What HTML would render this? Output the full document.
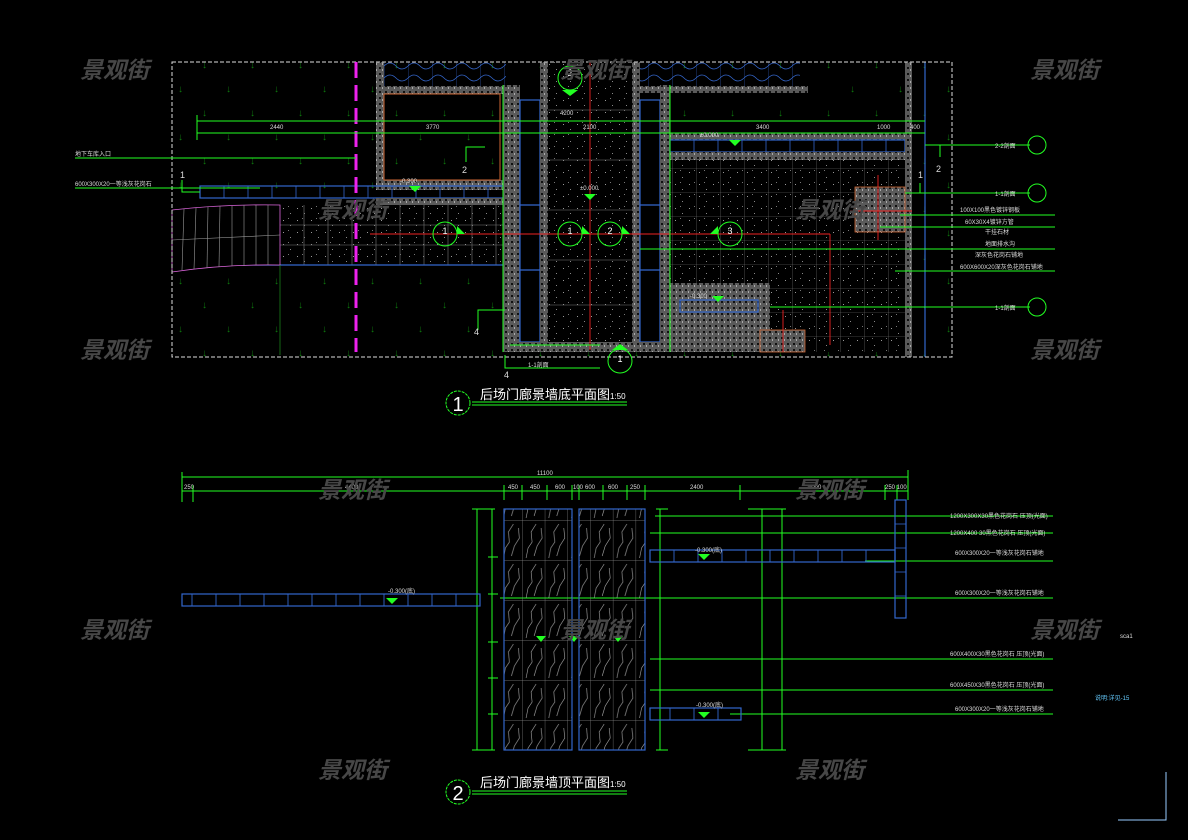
<!DOCTYPE html>
<html><head><meta charset="utf-8"><style>
html,body{margin:0;padding:0;background:#000;}
svg{display:block}
text{font-family:"Liberation Sans","Noto Sans CJK SC",sans-serif;}
.wm{fill:#474747;font-size:23px;font-style:italic;font-weight:bold;font-family:"Liberation Sans","Noto Sans CJK SC",sans-serif;}
.t{fill:#ddd;font-size:6px;}
.g{stroke:#2f2;stroke-width:1;fill:none}
.b{stroke:#36c;stroke-width:1.2;fill:none}
</style></head><body>
<svg width="1188" height="840" viewBox="0 0 1188 840" xmlns="http://www.w3.org/2000/svg">
<defs>
<pattern id="tz" width="6" height="6" patternUnits="userSpaceOnUse">
<rect width="6" height="6" fill="#5a5a5a"/><rect x="1" y="1" width="2" height="2" fill="#111"/><rect x="4" y="3" width="1" height="2" fill="#aaa"/>
</pattern>
<pattern id="pv" width="14" height="12" patternUnits="userSpaceOnUse">
<rect width="14" height="12" fill="#000"/><rect x="3" y="4" width="1" height="1" fill="#999"/><rect x="10" y="9" width="1" height="1" fill="#888"/><rect x="8" y="2" width="1" height="1" fill="#777"/>
</pattern>
<pattern id="gr" width="48" height="48" patternUnits="userSpaceOnUse">
<text x="10" y="20" fill="#0c7a0c" font-size="10">↓</text><text x="34" y="44" fill="#0c7a0c" font-size="10">↓</text>
</pattern>
<pattern id="wv" width="24" height="12" patternUnits="userSpaceOnUse">
<path d="M0 6 Q6 0 12 6 T24 6" stroke="#36c" fill="none" stroke-width="0.8"/><line x1="0" y1="0" x2="0" y2="12" stroke="#36c" stroke-width="0.6"/>
</pattern>
<pattern id="tile" width="24" height="24" patternUnits="userSpaceOnUse">
<rect width="24" height="24" fill="url(#pv)"/><path d="M0 0H24M0 0V24" stroke="#777" stroke-width="0.6"/>
</pattern>
<pattern id="stone" width="22.7" height="40" patternUnits="userSpaceOnUse">
<path d="M0 0H22.7M0 0V40" stroke="#888" stroke-width="0.7"/>
<path d="M4 38 L6 28 L10 22 L9 12 L14 4 M12 36 L15 26 L20 18 L19 8" stroke="#aaa" stroke-width="0.6" fill="none"/>
</pattern>
</defs>

<!-- TOP PLAN -->
<rect x="172" y="62" width="780" height="295" fill="url(#gr)"/>
<rect x="376" y="62" width="130" height="24" fill="url(#wv)"/>
<rect x="640" y="62" width="160" height="24" fill="url(#wv)"/>
<rect x="376" y="62" width="8" height="128" fill="url(#tz)"/>
<rect x="376" y="86" width="134" height="8" fill="url(#tz)"/>
<rect x="376" y="180" width="134" height="10" fill="url(#tz)"/>
<rect x="384" y="94" width="116" height="86" fill="#000" stroke="#c63" stroke-width="1"/>
<rect x="386" y="96" width="112" height="82" fill="url(#gr)"/>
<rect x="200" y="186" width="305" height="12" fill="#000" class="b"/>
<g stroke="#36c" stroke-width="0.8">
<line x1="224" y1="186" x2="224" y2="198"/><line x1="248" y1="186" x2="248" y2="198"/><line x1="272" y1="186" x2="272" y2="198"/><line x1="296" y1="186" x2="296" y2="198"/><line x1="320" y1="186" x2="320" y2="198"/><line x1="344" y1="186" x2="344" y2="198"/><line x1="368" y1="186" x2="368" y2="198"/><line x1="392" y1="186" x2="392" y2="198"/><line x1="416" y1="186" x2="416" y2="198"/><line x1="440" y1="186" x2="440" y2="198"/><line x1="464" y1="186" x2="464" y2="198"/><line x1="488" y1="186" x2="488" y2="198"/>
</g>
<rect x="376" y="198" width="134" height="7" fill="url(#tz)"/>
<rect x="280" y="205" width="225" height="60" fill="url(#pv)"/>
<g stroke="#777" stroke-width="0.6">
<line x1="280" y1="225" x2="505" y2="225"/><line x1="280" y1="245" x2="505" y2="245"/>
<line x1="304" y1="205" x2="304" y2="265"/><line x1="328" y1="205" x2="328" y2="265"/><line x1="352" y1="205" x2="352" y2="265"/><line x1="376" y1="205" x2="376" y2="265"/><line x1="400" y1="205" x2="400" y2="265"/><line x1="424" y1="205" x2="424" y2="265"/><line x1="448" y1="205" x2="448" y2="265"/><line x1="472" y1="205" x2="472" y2="265"/><line x1="496" y1="205" x2="496" y2="265"/>
</g>
<line x1="200" y1="265" x2="505" y2="265" class="b"/>
<path d="M172 210 Q226 204 280 205 V265 Q226 264 172 272 Z" fill="#000" stroke="#d6d" stroke-width="0.8"/>
<g stroke="#999" stroke-width="0.6">
<line x1="184" y1="209" x2="182" y2="270"/><line x1="196" y1="208" x2="194" y2="269"/><line x1="208" y1="207" x2="207" y2="268"/><line x1="220" y1="206" x2="219" y2="267"/><line x1="232" y1="206" x2="232" y2="266"/><line x1="244" y1="205" x2="244" y2="266"/><line x1="256" y1="205" x2="256" y2="265"/><line x1="268" y1="205" x2="268" y2="265"/>
<line x1="172" y1="240" x2="280" y2="235"/>
</g>
<line x1="280" y1="265" x2="280" y2="355" stroke="#2a2" stroke-width="0.6"/>
<rect x="503" y="85" width="17" height="267" fill="url(#tz)"/>
<rect x="520" y="100" width="20" height="242" fill="#000" class="b"/>
<rect x="540" y="62" width="8" height="290" fill="url(#tz)"/>
<rect x="548" y="62" width="84" height="280" fill="url(#pv)"/>
<g stroke="#777" stroke-width="0.6">
<line x1="548" y1="110" x2="632" y2="110"/><line x1="548" y1="160" x2="632" y2="160"/><line x1="548" y1="210" x2="632" y2="210"/><line x1="548" y1="260" x2="632" y2="260"/><line x1="548" y1="305" x2="632" y2="305"/>
</g>
<rect x="632" y="62" width="8" height="290" fill="url(#tz)"/>
<rect x="640" y="100" width="20" height="242" fill="#000" class="b"/>
<rect x="660" y="85" width="10" height="267" fill="url(#tz)"/>
<rect x="503" y="342" width="167" height="10" fill="url(#tz)"/>
<line x1="520" y1="205" x2="540" y2="205" class="b"/><line x1="520" y1="270" x2="540" y2="270" class="b"/>
<line x1="640" y1="205" x2="660" y2="205" class="b"/><line x1="640" y1="270" x2="660" y2="270" class="b"/>
<rect x="640" y="86" width="168" height="7" fill="url(#tz)"/>
<rect x="660" y="133" width="250" height="7" fill="url(#tz)"/>
<rect x="670" y="140" width="235" height="12" fill="#000" class="b"/>
<g stroke="#36c" stroke-width="0.8"><line x1="694" y1="140" x2="694" y2="152"/><line x1="718" y1="140" x2="718" y2="152"/><line x1="742" y1="140" x2="742" y2="152"/><line x1="766" y1="140" x2="766" y2="152"/><line x1="790" y1="140" x2="790" y2="152"/><line x1="814" y1="140" x2="814" y2="152"/><line x1="838" y1="140" x2="838" y2="152"/><line x1="862" y1="140" x2="862" y2="152"/><line x1="886" y1="140" x2="886" y2="152"/></g>
<rect x="660" y="152" width="250" height="8" fill="url(#tz)"/>
<rect x="670" y="160" width="235" height="192" fill="url(#tile)"/>
<rect x="905" y="62" width="7" height="295" fill="url(#tz)"/>
<rect x="855" y="187" width="50" height="45" fill="url(#tz)" stroke="#c63" stroke-width="0.8"/>
<rect x="670" y="283" width="100" height="69" fill="url(#tz)"/>
<rect x="680" y="300" width="78" height="12" fill="#000" class="b"/>
<rect x="760" y="330" width="45" height="22" fill="url(#tz)" stroke="#c63" stroke-width="0.8"/>
<line x1="925" y1="62" x2="925" y2="357" class="b"/>
<g stroke="#e22" stroke-width="0.9">
<line x1="370" y1="234" x2="830" y2="234"/><line x1="590" y1="62" x2="590" y2="350"/>
<line x1="830" y1="234" x2="830" y2="345"/><line x1="878" y1="175" x2="878" y2="240"/><line x1="850" y1="211" x2="912" y2="211"/>
<line x1="783" y1="310" x2="783" y2="352"/>
</g>
<rect x="172" y="62" width="780" height="295" fill="none" stroke="#ddd" stroke-width="1" stroke-dasharray="4,2"/>
<line x1="356" y1="62" x2="356" y2="352" stroke="#e2e" stroke-width="3" stroke-dasharray="16,7"/>
<g class="g">
<line x1="197" y1="121" x2="925" y2="121"/><line x1="197" y1="133" x2="925" y2="133"/>
<line x1="197" y1="115" x2="197" y2="140"/>
<line x1="503" y1="85" x2="503" y2="352"/><line x1="670" y1="85" x2="670" y2="352"/>
<line x1="75" y1="158" x2="356" y2="158"/>
<line x1="75" y1="188" x2="260" y2="188"/>
<polyline points="182,180 182,192 200,192"/>
<polyline points="466,162 466,147 485,147"/>
<polyline points="478,330 478,310 505,310"/>
<polyline points="925,145 940,145 940,157"/>
<line x1="940" y1="145" x2="1030" y2="145"/>
<polyline points="905,193 920,193 920,183"/><line x1="920" y1="193" x2="1030" y2="193"/>
<line x1="900" y1="215" x2="1055" y2="215"/><line x1="880" y1="227" x2="1055" y2="227"/>
<line x1="640" y1="249" x2="1055" y2="249"/><line x1="895" y1="271" x2="1055" y2="271"/>
<line x1="770" y1="307" x2="1030" y2="307"/>
<line x1="510" y1="345" x2="600" y2="345"/><polyline points="505,355 505,368 600,368"/>
</g>
<g fill="none" stroke="#2f2" stroke-width="1">
<circle cx="1037" cy="145" r="9"/><circle cx="1037" cy="193" r="9"/><circle cx="1037" cy="307" r="9"/>
<circle cx="570" cy="78" r="12"/><circle cx="445" cy="234" r="12"/><circle cx="570" cy="234" r="12"/><circle cx="610" cy="234" r="12"/><circle cx="730" cy="234" r="12"/><circle cx="620" cy="361" r="12"/>
</g>
<g fill="#2f2">
<polygon points="457,234 465,234 457,226"/><polygon points="582,234 590,234 582,226"/><polygon points="622,234 630,234 622,226"/><polygon points="718,234 710,234 718,226"/>
<polygon points="562,90 578,90 570,96"/><polygon points="612,350 628,350 620,344"/>
<polygon points="409,186 421,186 415,192"/><polygon points="584,194 596,194 590,200"/><polygon points="729,140 741,140 735,146"/><polygon points="712,296 724,296 718,302"/>
</g>
<g class="t">
<text x="270" y="129">2440</text><text x="426" y="129">3770</text><text x="560" y="115">4200</text><text x="583" y="129">2100</text><text x="756" y="129">3400</text><text x="877" y="129">1000</text><text x="910" y="129">400</text>
<text x="75" y="156">地下车库入口</text><text x="75" y="186">600X300X20一等浅灰花岗石</text>
<text x="400" y="183">-0.300</text><text x="580" y="190">±0.000</text><text x="700" y="137">±0.000</text><text x="690" y="298">-0.300</text>
<text x="995" y="148">2-2剖面</text><text x="995" y="196">1-1剖面</text><text x="995" y="310">1-1剖面</text>
<text x="960" y="212">100X100黑色镀锌钢板</text><text x="965" y="224">60X30X4镀锌方管</text><text x="985" y="234">干挂石材</text><text x="985" y="246">地面排水沟</text><text x="975" y="257">深灰色花岗石铺地</text><text x="960" y="269">600X600X20深灰色花岗石铺地</text>
<text x="528" y="367">1-1剖面</text>
</g>
<g fill="#ddd" font-size="9"><text x="180" y="178">1</text><text x="462" y="173">2</text><text x="474" y="335">4</text><text x="918" y="178">1</text><text x="936" y="172">2</text><text x="504" y="378">4</text></g>
<g fill="#fff" font-size="9" text-anchor="middle"><text x="570" y="76">2</text><text x="445" y="234">1</text><text x="570" y="234">1</text><text x="610" y="234">2</text><text x="730" y="234">3</text><text x="620" y="362">1</text></g>

<circle cx="458" cy="403" r="12" fill="none" stroke="#2f2" stroke-width="1" stroke-dasharray="3,1"/>
<text x="458" y="411" fill="#fff" font-size="20" text-anchor="middle">1</text>
<text x="480" y="399" fill="#fff" font-size="13">后场门廊景墙底平面图</text><text x="610" y="399" fill="#fff" font-size="8">1:50</text>
<line x1="472" y1="402" x2="627" y2="402" class="g"/><line x1="472" y1="405" x2="627" y2="405" class="g"/>

<!-- BOTTOM PLAN -->
<g class="g">
<line x1="182" y1="477" x2="908" y2="477"/><line x1="182" y1="491" x2="908" y2="491"/>
<line x1="182" y1="472" x2="182" y2="502"/><line x1="193" y1="485" x2="193" y2="502"/><line x1="908" y1="470" x2="908" y2="500"/>
<line x1="504" y1="485" x2="504" y2="500"/><line x1="522" y1="485" x2="522" y2="500"/><line x1="547" y1="485" x2="547" y2="500"/><line x1="572" y1="485" x2="572" y2="500"/><line x1="579" y1="485" x2="579" y2="500"/><line x1="603" y1="485" x2="603" y2="500"/><line x1="627" y1="485" x2="627" y2="500"/><line x1="645" y1="485" x2="645" y2="500"/>
<line x1="740" y1="485" x2="740" y2="500"/><line x1="885" y1="485" x2="885" y2="500"/><line x1="897" y1="485" x2="897" y2="500"/>
<line x1="477" y1="509" x2="477" y2="750"/><line x1="492" y1="509" x2="492" y2="750"/>
<line x1="472" y1="509" x2="495" y2="509"/><line x1="472" y1="750" x2="495" y2="750"/>
<line x1="488" y1="557" x2="498" y2="557"/><line x1="488" y1="594" x2="498" y2="594"/><line x1="488" y1="642" x2="498" y2="642"/><line x1="488" y1="678" x2="498" y2="678"/><line x1="488" y1="714" x2="498" y2="714"/>
<line x1="660" y1="509" x2="660" y2="750"/><line x1="656" y1="509" x2="668" y2="509"/><line x1="656" y1="750" x2="668" y2="750"/>
<line x1="762" y1="509" x2="762" y2="750"/><line x1="782" y1="509" x2="782" y2="750"/><line x1="748" y1="509" x2="786" y2="509"/><line x1="748" y1="750" x2="786" y2="750"/>
<line x1="655" y1="516" x2="1053" y2="516"/><line x1="650" y1="533" x2="1053" y2="533"/><line x1="865" y1="561" x2="1053" y2="561"/>
<line x1="500" y1="598" x2="1053" y2="598"/><line x1="650" y1="659" x2="1053" y2="659"/><line x1="650" y1="690" x2="1053" y2="690"/><line x1="730" y1="714" x2="1053" y2="714"/>
</g>
<rect x="182" y="594" width="298" height="12" class="b"/>
<g stroke="#36c" stroke-width="0.9">
<line x1="192" y1="594" x2="192" y2="606"/><line x1="216" y1="594" x2="216" y2="606"/><line x1="240" y1="594" x2="240" y2="606"/><line x1="264" y1="594" x2="264" y2="606"/><line x1="288" y1="594" x2="288" y2="606"/><line x1="312" y1="594" x2="312" y2="606"/><line x1="336" y1="594" x2="336" y2="606"/><line x1="360" y1="594" x2="360" y2="606"/><line x1="384" y1="594" x2="384" y2="606"/><line x1="408" y1="594" x2="408" y2="606"/><line x1="432" y1="594" x2="432" y2="606"/><line x1="456" y1="594" x2="456" y2="606"/>
</g>
<rect x="504" y="509" width="68" height="241" fill="url(#stone)" stroke="#36c" stroke-width="1.2"/>
<rect x="579" y="509" width="66" height="241" fill="url(#stone)" stroke="#36c" stroke-width="1.2"/>
<rect x="650" y="550" width="245" height="12" class="b"/>
<g stroke="#36c" stroke-width="0.9"><line x1="674" y1="550" x2="674" y2="562"/><line x1="698" y1="550" x2="698" y2="562"/><line x1="722" y1="550" x2="722" y2="562"/><line x1="746" y1="550" x2="746" y2="562"/><line x1="770" y1="550" x2="770" y2="562"/><line x1="794" y1="550" x2="794" y2="562"/><line x1="818" y1="550" x2="818" y2="562"/><line x1="842" y1="550" x2="842" y2="562"/><line x1="866" y1="550" x2="866" y2="562"/></g>
<rect x="650" y="708" width="91" height="12" class="b"/>
<g stroke="#36c" stroke-width="0.9"><line x1="670" y1="708" x2="670" y2="720"/><line x1="694" y1="708" x2="694" y2="720"/><line x1="718" y1="708" x2="718" y2="720"/></g>
<rect x="895" y="500" width="11" height="118" class="b"/>
<g stroke="#36c" stroke-width="0.8"><line x1="895" y1="524" x2="906" y2="524"/><line x1="895" y1="548" x2="906" y2="548"/><line x1="895" y1="572" x2="906" y2="572"/><line x1="895" y1="596" x2="906" y2="596"/></g>
<g fill="#2f2">
<polygon points="386,598 398,598 392,604"/><polygon points="698,554 710,554 704,560"/><polygon points="698,712 710,712 704,718"/>
<polygon points="536,636 546,636 541,642"/><polygon points="569,636 579,636 574,642"/><polygon points="613,636 623,636 618,642"/>
</g>
<g class="t">
<text x="537" y="475">11100</text><text x="184" y="489">250</text><text x="345" y="489">4400</text><text x="508" y="489">450</text><text x="530" y="489">450</text><text x="555" y="489">600</text><text x="573" y="489">100</text><text x="585" y="489">600</text><text x="608" y="489">600</text><text x="630" y="489">250</text><text x="690" y="489">2400</text><text x="808" y="489">3000</text><text x="885" y="489">250 100</text>
<text x="388" y="593">-0.300(底)</text><text x="695" y="552">-0.300(底)</text><text x="696" y="707">-0.300(底)</text>
<text x="950" y="518">1200X300X30黑色花岗石 压顶(光面)</text><text x="950" y="535">1200X400 30黑色花岗石 压顶(光面)</text><text x="955" y="555">600X300X20一等浅灰花岗石铺地</text><text x="955" y="595">600X300X20一等浅灰花岗石铺地</text><text x="950" y="656">600X400X30黑色花岗石 压顶(光面)</text><text x="950" y="687">600X450X30黑色花岗石 压顶(光面)</text><text x="955" y="711">600X300X20一等浅灰花岗石铺地</text>
<text x="1120" y="638">sca1</text>
<text x="1095" y="700" fill="#6cf">说明:详见-15</text>
</g>
<circle cx="458" cy="792" r="12" fill="none" stroke="#2f2" stroke-width="1" stroke-dasharray="3,1"/>
<text x="458" y="800" fill="#fff" font-size="20" text-anchor="middle">2</text>
<text x="480" y="787" fill="#fff" font-size="13">后场门廊景墙顶平面图</text><text x="610" y="787" fill="#fff" font-size="8">1:50</text>
<line x1="472" y1="791" x2="627" y2="791" class="g"/><line x1="472" y1="794" x2="627" y2="794" class="g"/>

<polyline points="1166,772 1166,820 1118,820" fill="none" stroke="#9cf" stroke-width="1"/>

<g class="wm">
<text x="80" y="78">景观街</text><text x="560" y="78">景观街</text><text x="1030" y="78">景观街</text>
<text x="318" y="218">景观街</text><text x="795" y="218">景观街</text>
<text x="80" y="358">景观街</text><text x="1030" y="358">景观街</text>
<text x="318" y="498">景观街</text><text x="795" y="498">景观街</text>
<text x="80" y="638">景观街</text><text x="560" y="638">景观街</text><text x="1030" y="638">景观街</text>
<text x="318" y="778">景观街</text><text x="795" y="778">景观街</text>
</g>
</svg>
</body></html>
